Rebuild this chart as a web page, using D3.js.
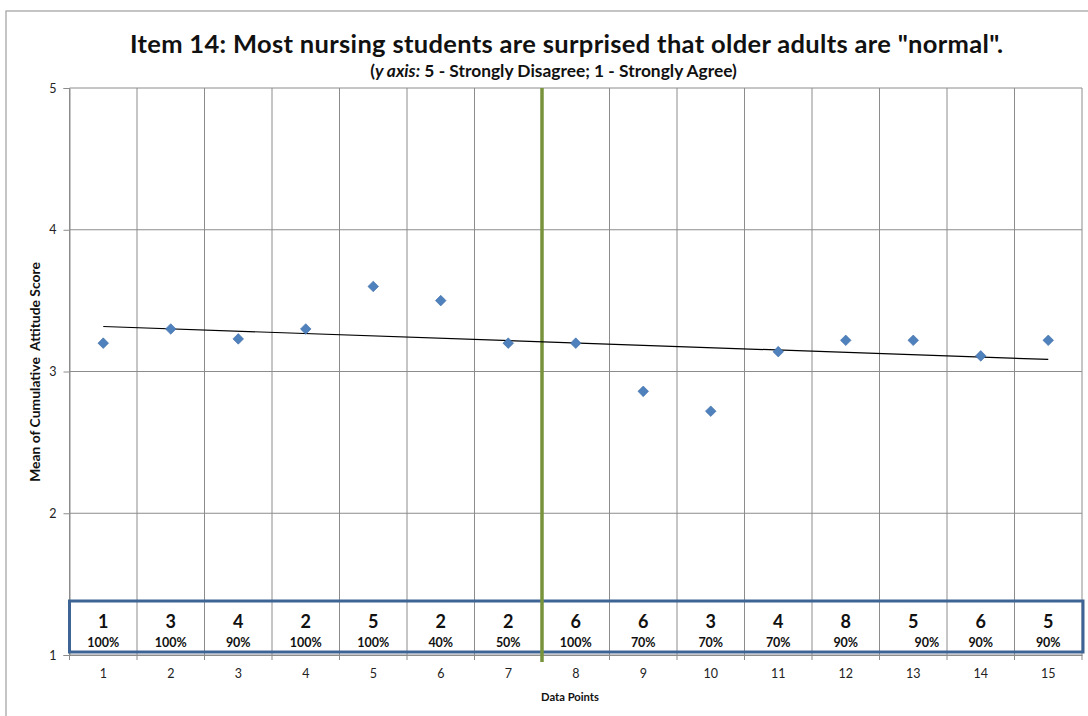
<!DOCTYPE html>
<html><head><meta charset="utf-8">
<script src="https://cdn.jsdelivr.net/npm/d3@7"></script>
<style>body{margin:0;background:#fff;}svg{display:block;}</style>
</head><body>
<svg id="chart" width="1088" height="716"></svg>
<script>
const dataPoints = [1,2,3,4,5,6,7,8,9,10,11,12,13,14,15];
const meanScores = [3.2,3.3,3.23,3.3,3.6,3.5,3.2,3.2,2.86,2.72,3.14,3.22,3.22,3.11,3.22];
const counts = ["1","3","4","2","5","2","2","6","6","3","4","8","5","6","5"];
const percents = ["100%","100%","90%","100%","100%","40%","50%","100%","70%","70%","70%","90%","         90%","90%","90%"];
const yTicks = [1,2,3,4,5];
const dividerAfter = 7;
const titleText = 'Item 14: Most nursing students are surprised that older adults are "normal".';

const svg = d3.select("#chart");
const font = "Lato, 'Open Sans', sans-serif";
const m = {left:69.5, right:1082, top:88, bottom:655};

function fitWidth(sel, target){
  const base = +sel.attr("font-size");
  const w = sel.node().getComputedTextLength();
  if (w > 0) sel.attr("font-size", base*target/w);
}

// outer chart border
svg.append("rect").attr("x",6).attr("y",11).attr("width",1100).attr("height",720)
  .attr("fill","none").attr("stroke","#a6a6a6").attr("stroke-width",1.3);

const x = d3.scaleBand().domain(dataPoints).range([m.left,m.right]).padding(0);
const y = d3.scaleLinear().domain([1,5]).range([m.bottom,m.top]);

// horizontal gridlines
svg.append("g").selectAll("line").data(yTicks).join("line")
  .attr("x1",m.left).attr("x2",m.right)
  .attr("y1",d=>y(d)).attr("y2",d=>y(d))
  .attr("stroke","#8c8c8c").attr("stroke-width",1);
// vertical gridlines at category boundaries
const bounds = dataPoints.map(d=>x(d)).concat([m.right]);
svg.append("g").selectAll("line").data(bounds).join("line")
  .attr("x1",d=>d).attr("x2",d=>d)
  .attr("y1",m.top).attr("y2",m.bottom)
  .attr("stroke","#8c8c8c").attr("stroke-width",1);

// y axis
const yAxis = svg.append("g").attr("transform",`translate(${m.left},0)`)
  .call(d3.axisLeft(y).tickValues(yTicks).tickSize(6).tickPadding(7).tickFormat(d3.format("d")));
yAxis.select(".domain").attr("stroke","#8c8c8c");
yAxis.selectAll(".tick line").attr("stroke","#8c8c8c");
yAxis.selectAll("text").attr("font-family",font).attr("font-size",12.5).attr("fill","#222");

// x axis
const xAxis = svg.append("g").attr("transform",`translate(0,${m.bottom})`)
  .call(d3.axisBottom(x).tickSize(0).tickPadding(14));
xAxis.select(".domain").attr("stroke","#8c8c8c");
xAxis.selectAll("text").attr("font-family",font).attr("font-size",12.5).attr("fill","#222");
svg.append("g").selectAll("line").data(bounds).join("line")
  .attr("x1",d=>d).attr("x2",d=>d).attr("y1",m.bottom).attr("y2",m.bottom+5)
  .attr("stroke","#8c8c8c");

// table box
const boxTop = 601, boxBottom = 652;
svg.append("rect").attr("x",m.left).attr("y",boxTop)
  .attr("width",m.right-m.left+1).attr("height",boxBottom-boxTop)
  .attr("fill","none").attr("stroke","#3d6494").attr("stroke-width",3);
svg.append("g").selectAll("text").data(dataPoints).join("text")
  .attr("x",d=>x(d)+x.bandwidth()/2).attr("y",628)
  .attr("text-anchor","middle").attr("font-family",font).attr("font-weight","bold")
  .attr("font-size",18).attr("fill","#111").text((d,i)=>counts[i]);
svg.append("g").selectAll("text").data(dataPoints).join("text")
  .attr("x",d=>x(d)+x.bandwidth()/2).attr("y",647)
  .attr("text-anchor","middle").attr("font-family",font).attr("font-weight","bold")
  .attr("font-size",12.5).attr("fill","#111").style("white-space","pre")
  .text((d,i)=>percents[i]);

// green divider
const divX = x(dividerAfter)+x.bandwidth();
svg.append("line").attr("x1",divX).attr("x2",divX).attr("y1",m.top).attr("y2",m.bottom+7)
  .attr("stroke","#77933c").attr("stroke-width",3.5);

// trendline (least squares)
const n = dataPoints.length;
const mx = d3.mean(dataPoints), my = d3.mean(meanScores);
const slope = d3.sum(dataPoints,(d,i)=>(d-mx)*(meanScores[i]-my))/d3.sum(dataPoints,d=>(d-mx)*(d-mx));
const icpt = my - slope*mx;
const xc = d=>x(d)+x.bandwidth()/2;
svg.append("line")
  .attr("x1",xc(dataPoints[0])).attr("y1",y(icpt+slope*dataPoints[0]))
  .attr("x2",xc(dataPoints[n-1])).attr("y2",y(icpt+slope*dataPoints[n-1]))
  .attr("stroke","#000").attr("stroke-width",1.2);

// markers
svg.append("g").selectAll("path").data(dataPoints).join("path")
  .attr("d",d3.symbol(d3.symbolSquare,56))
  .attr("transform",(d,i)=>`translate(${xc(d)},${y(meanScores[i])}) rotate(45)`)
  .attr("fill","#4f81bd").attr("stroke","#3f6ea8").attr("stroke-width",0.6);

// titles
svg.append("text").attr("x",566.5).attr("y",53).attr("text-anchor","middle")
  .attr("font-family",font).attr("font-weight","bold").attr("font-size",25.5).attr("fill","#111")
  .attr("textLength",873).attr("lengthAdjust","spacing")
  .text(titleText);
const sub = svg.append("text").attr("x",553.5).attr("y",77).attr("text-anchor","middle")
  .attr("font-family",font).attr("font-weight","bold").attr("font-size",13).attr("fill","#111");
sub.append("tspan").text("(");
sub.append("tspan").attr("font-style","italic").text("y axis:");
sub.append("tspan").text(" 5 - Strongly Disagree; 1 - Strongly Agree)");
fitWidth(sub, 367);

const yTitle = svg.append("text").attr("transform","translate(40,372) rotate(-90)").attr("text-anchor","middle")
  .attr("font-family",font).attr("font-weight","bold").attr("font-size",12).attr("fill","#111")
  .style("white-space","pre")
  .text("Mean of Cumulative  Attitude Score");
fitWidth(yTitle, 220);
const xTitle = svg.append("text").attr("x",570).attr("y",701).attr("text-anchor","middle")
  .attr("font-family",font).attr("font-weight","bold").attr("font-size",12).attr("fill","#111")
  .text("Data Points");
fitWidth(xTitle, 58);
</script>
</body></html>
